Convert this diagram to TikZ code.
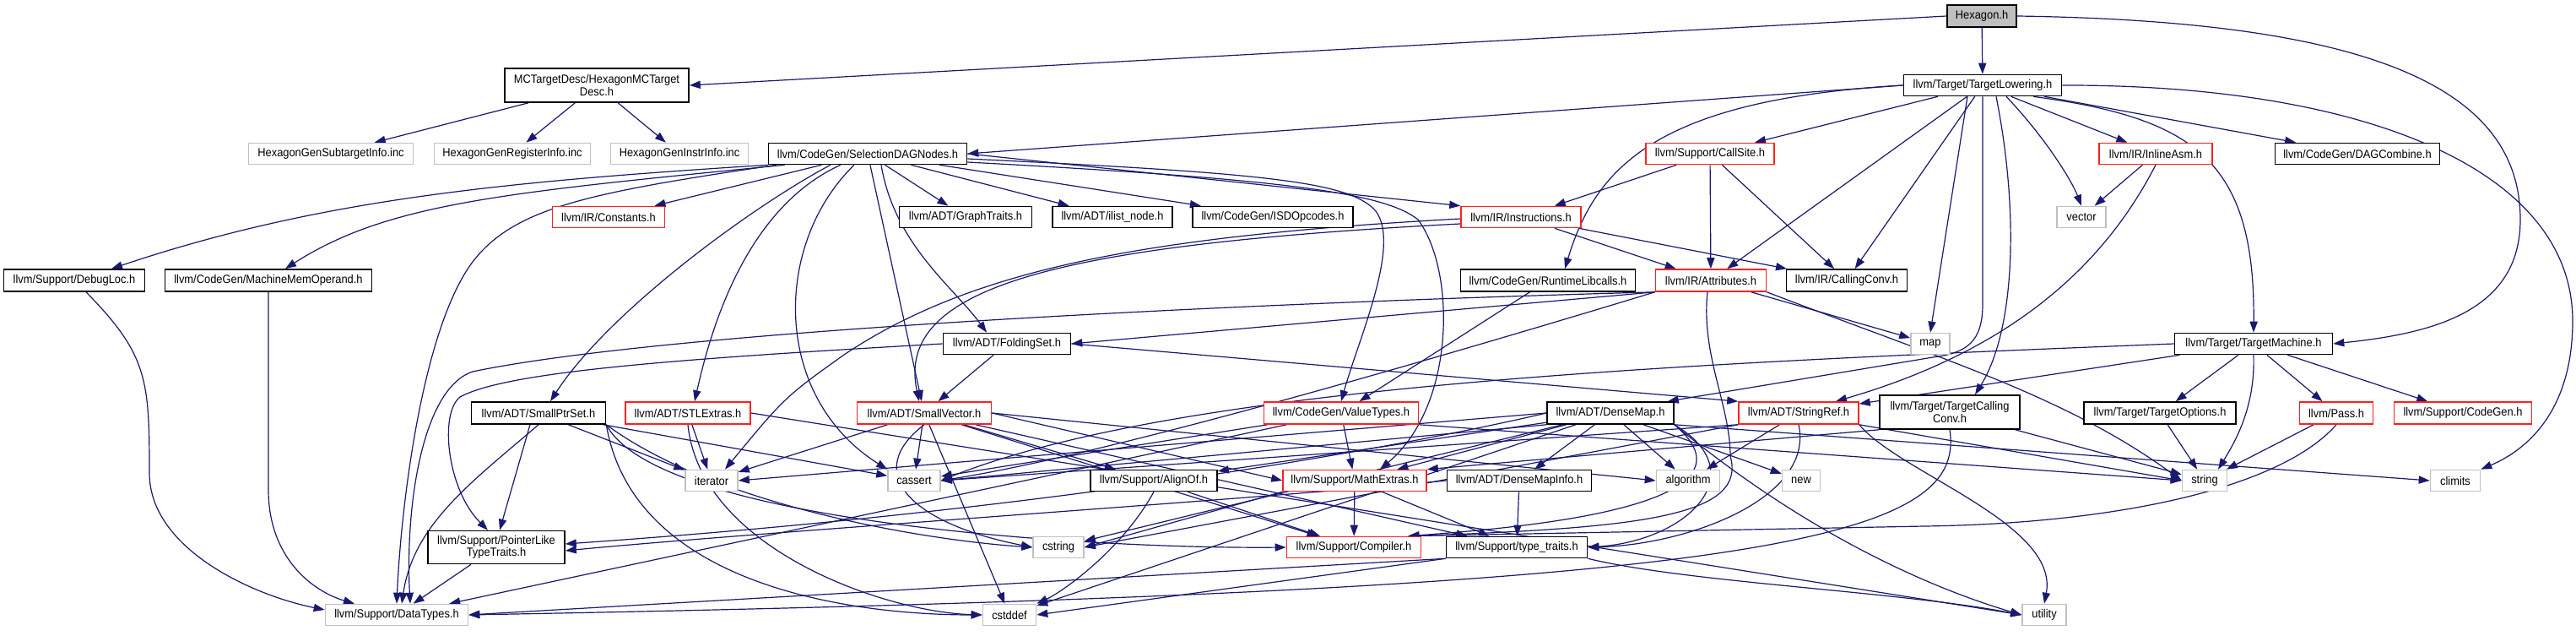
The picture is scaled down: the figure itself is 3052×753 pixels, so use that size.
\documentclass[tikz,border=0pt]{standalone}
\usepackage{fontspec}
\setmainfont{Liberation Sans}[FakeStretch=0.92]
\usetikzlibrary{arrows.meta}
\definecolor{edgec}{HTML}{191970}
\definecolor{redb}{HTML}{FF2020}
\definecolor{grayb}{HTML}{C0C0C0}
\definecolor{hexfill}{HTML}{BFBFBF}
\pgfdeclarelayer{back}
\pgfdeclarelayer{bg}
\pgfsetlayers{back,bg,main}
\begin{document}
\begin{tikzpicture}[x=0.5pt,y=-0.5pt,
 bx/.style={draw=black,fill=white,line width=0.8pt,inner sep=0pt,align=center,font=\fontsize{7}{7.3}\selectfont},
 rbx/.style={bx,draw=redb},
 gbx/.style={bx,draw=grayb},
 bw/.style={minimum width=#1*0.5pt},
 bh/.style={minimum height=#1*0.5pt},
 e/.style={draw=edgec,line width=0.6pt,-{Triangle[length=6.5pt,width=4.6pt]}}]
\begin{pgfonlayer}{back}
\fill[white] (0,0) rectangle (3052,753);
\end{pgfonlayer}
\useasboundingbox (0,0) rectangle (3052,753);
% nodes
\node[bx,fill=hexfill,bw=82,bh=26] (hex) at (2348,19) {Hexagon.h};
\node[bx,bw=218,bh=40] (mc) at (707,101) {MCTargetDesc/HexagonMCTarget\\Desc.h};
\node[bx,bw=187,bh=25] (tl) at (2349,101) {llvm/Target/TargetLowering.h};
\node[gbx,bw=195,bh=25] (sub) at (392,182) {HexagonGenSubtargetInfo.inc};
\node[gbx,bw=185,bh=25] (reg) at (607,182) {HexagonGenRegisterInfo.inc};
\node[gbx,bw=163,bh=25] (instr) at (805,182) {HexagonGenInstrInfo.inc};
\node[bx,bw=235,bh=25] (sdn) at (1028,182) {llvm/CodeGen/SelectionDAGNodes.h};
\node[rbx,bw=152,bh=25] (cs) at (2026,182) {llvm/Support/CallSite.h};
\node[rbx,bw=134,bh=25] (ia) at (2554,182) {llvm/IR/InlineAsm.h};
\node[bx,bw=195,bh=25] (dagc) at (2793,182) {llvm/CodeGen/DAGCombine.h};
\node[rbx,bw=133,bh=25] (const) at (721,257) {llvm/IR/Constants.h};
\node[bx,bw=157,bh=25] (gt) at (1144,257) {llvm/ADT/GraphTraits.h};
\node[bx,bw=142,bh=25] (ilist) at (1318,257) {llvm/ADT/ilist\_node.h};
\node[bx,bw=190,bh=25] (isd) at (1508,257) {llvm/CodeGen/ISDOpcodes.h};
\node[rbx,bw=142,bh=25] (ins) at (1802,257) {llvm/IR/Instructions.h};
\node[gbx,bw=58,bh=25] (vec) at (2466,257) {vector};
\node[bx,bw=167,bh=26] (dl) at (88,332) {llvm/Support/DebugLoc.h};
\node[bx,bw=245,bh=26] (mmo) at (318,332) {llvm/CodeGen/MachineMemOperand.h};
\node[bx,bw=207,bh=26] (rtl) at (1834,332) {llvm/CodeGen/RuntimeLibcalls.h};
\node[rbx,bw=131,bh=26] (attr) at (2027,332) {llvm/IR/Attributes.h};
\node[bx,bw=143,bh=26] (cc) at (2188,332) {llvm/IR/CallingConv.h};
\node[bx,bw=151,bh=25] (fs) at (1193,407) {llvm/ADT/FoldingSet.h};
\node[gbx,bw=46,bh=25] (map) at (2287,407) {map};
\node[bx,bw=187,bh=25] (tm) at (2670,407) {llvm/Target/TargetMachine.h};
\node[bx,bw=159,bh=26] (sps) at (638,489) {llvm/ADT/SmallPtrSet.h};
\node[rbx,bw=148,bh=26] (stl) at (815,489) {llvm/ADT/STLExtras.h};
\node[rbx,bw=159,bh=26] (sv) at (1095,489) {llvm/ADT/SmallVector.h};
\node[rbx,bw=183,bh=26] (vt) at (1589,489) {llvm/CodeGen/ValueTypes.h};
\node[bx,bw=150,bh=26] (dm) at (1908,489) {llvm/ADT/DenseMap.h};
\node[rbx,bw=142,bh=26] (sr) at (2131,489) {llvm/ADT/StringRef.h};
\node[bx,bw=166,bh=40] (tcc) at (2310,488) {llvm/Target/TargetCalling\\Conv.h};
\node[bx,bw=180,bh=26] (tgo) at (2559,489) {llvm/Target/TargetOptions.h};
\node[rbx,bw=87,bh=26] (pass) at (2768,489) {llvm/Pass.h};
\node[rbx,bw=163,bh=26] (cg) at (2918,489) {llvm/Support/CodeGen.h};
\node[gbx,bw=62,bh=25] (iter) at (843,569) {iterator};
\node[gbx,bw=62,bh=25] (cas) at (1083,569) {cassert};
\node[bx,bw=150,bh=25] (align) at (1367,569) {llvm/Support/AlignOf.h};
\node[rbx,bw=170,bh=25] (me) at (1605,569) {llvm/Support/MathExtras.h};
\node[bx,bw=171,bh=25] (dmi) at (1800,569) {llvm/ADT/DenseMapInfo.h};
\node[gbx,bw=75,bh=25] (algo) at (2000,569) {algorithm};
\node[gbx,bw=45,bh=25] (new) at (2134,569) {new};
\node[gbx,bw=53,bh=25] (str) at (2612,569) {string};
\node[gbx,bw=59,bh=25] (clim) at (2909,569) {climits};
\node[bx,bw=162,bh=39] (pltt) at (588,648) {llvm/Support/PointerLike\\TypeTraits.h};
\node[gbx,bw=60,bh=25] (cstr) at (1254,648) {cstring};
\node[rbx,bw=159,bh=25] (comp) at (1604,648) {llvm/Support/Compiler.h};
\node[bx,bw=167,bh=25] (tt) at (1797,648) {llvm/Support/type\_traits.h};
\node[gbx,bw=169,bh=25] (dt) at (470,728) {llvm/Support/DataTypes.h};
\node[gbx,bw=63,bh=25] (cdef) at (1196,728) {cstddef};
\node[gbx,bw=52,bh=25] (util) at (2422,728) {utility};
% edges
\begin{pgfonlayer}{bg}
% Hexagon.h
\draw[e] (hex.west) -- (mc.east);
\draw[e] (hex) -- (tl);
\draw[e] (hex.east) .. controls (2800,25) and (2986,100) .. (2986,260) .. controls (2986,370) and (2880,395) .. (tm.east);
% MCTargetDesc
\draw[e] (mc) -- (sub);
\draw[e] (mc) -- (reg);
\draw[e] (mc) -- (instr);
% TargetLowering
\draw[e] (tl.west) -- (sdn.east);
\draw[e] (tl.west) .. controls (1960,118) and (1890,200) .. ([xshift=10pt]rtl.north);
\draw[e] (tl) -- (cs);
\draw[e] (tl) -- (attr);
\draw[e] (tl) -- (cc);
\draw[e] (tl.south) -- (2349,360) .. controls (2349,405) and (2330,418) .. (2290,423) -- ([xshift=-4pt]dm.north east);
\draw[e] ([xshift=-9pt]tl.south) -- (map.north);
\draw[e] ([xshift=8pt]tl.south) .. controls (2392,250) and (2388,390) .. ([xshift=15pt]tcc.north);
\draw[e] ([xshift=14pt]tl.south) .. controls (2425,165) and (2455,215) .. (vec.north);
\draw[e] (tl) -- (ia);
\draw[e] (tl) -- (dagc);
\draw[e] ([xshift=30pt]tl.south) .. controls (2600,140) and (2672,190) .. (tm.north);
\draw[e] (tl.east) .. controls (2800,100) and (3048,200) .. (3048,380) .. controls (3048,480) and (3000,530) .. (clim.north east);
% SelectionDAGNodes
\draw[e] (sdn.south west) .. controls (600,215) and (380,235) .. ([xshift=22pt]dl.north);
\draw[e] ([xshift=10pt]sdn.south west) .. controls (600,228) and (460,240) .. ([xshift=10pt]mmo.north);
\draw[e] (sdn) -- (const);
\draw[e] ([xshift=5pt]sdn.south west) .. controls (700,228) and (610,245) .. (560,310) .. controls (500,390) and (475,600) .. (dt.north);
\draw[e] ([xshift=-22pt]sdn.south) .. controls (890,245) and (720,370) .. ([xshift=7pt]sps.north);
\draw[e] ([xshift=-16pt]sdn.south) .. controls (930,225) and (862,300) .. ([xshift=4pt]stl.north);
\draw[e] ([xshift=-8pt]sdn.south) .. controls (915,290) and (915,470) .. (cas.north west);
\draw[e] (sdn) -- (sv);
\draw[e] ([xshift=8pt]sdn.south) .. controls (1060,290) and (1130,340) .. ([xshift=-12pt]fs.north);
\draw[e] (sdn) -- (gt);
\draw[e] (sdn) -- (ilist);
\draw[e] (sdn) -- (isd);
\draw[e] (sdn.east) -- (ins.north west);
\draw[e] ([yshift=-3pt]sdn.east) .. controls (1500,205) and (1600,215) .. (1630,250) .. controls (1660,290) and (1610,400) .. (vt.north);
\draw[e] ([yshift=-5pt]sdn.east) .. controls (1520,212) and (1640,228) .. (1680,260) .. controls (1725,320) and (1725,480) .. ([xshift=15pt]me.north);
% CallSite
\draw[e] (cs) -- (ins);
\draw[e] (cs) -- (attr);
\draw[e] (cs) -- (cc);
% InlineAsm
\draw[e] (ia) -- (vec);
\draw[e] (ia.south) .. controls (2500,300) and (2400,410) .. ([xshift=22pt]sr.north);
% Instructions
\draw[e] (ins) -- (attr);
\draw[e] (ins) -- (cc);
\draw[e] ([yshift=-4pt]ins.west) .. controls (1250,290) and (1060,340) .. ([xshift=-3pt]sv.north);
\draw[e] ([yshift=-1pt]ins.west) .. controls (1350,280) and (1150,320) .. (1000,420) .. controls (930,470) .. ([xshift=8pt]iter.north);
% Attributes
\draw[e] (attr.south west) -- (fs.east);
\draw[e] (attr) -- (map);
\draw[e] (attr.south west) .. controls (1500,358) and (800,390) .. (560,440) .. controls (500,460) and (480,600) .. ([xshift=8pt]dt.north);
\draw[e] (attr.south west) .. controls (1650,440) and (1300,540) .. (cas.east);
\draw[e] (attr.south east) .. controls (2300,425) and (2450,470) .. (str.west);
\draw[e] ([xshift=-2pt]attr.south) .. controls (2015,420) and (2050,480) .. (2050,540) .. controls (2070,610) and (1950,625) .. ([xshift=-8pt]comp.north east);
% DebugLoc, MachineMemOperand, RuntimeLibcalls
\draw[e] ([xshift=7pt]dl.south) .. controls (175,420) and (177,450) .. (177,560) .. controls (177,650) and (300,705) .. ([yshift=3pt]dt.west);
\draw[e] (mmo.south) -- (318,580) .. controls (318,660) and (370,700) .. ([xshift=-25pt]dt.north);
\draw[e] (rtl) -- (vt);
% FoldingSet
\draw[e] (fs) -- (sv);
\draw[e] (fs.east) -- (sr.north west);
\draw[e] (fs.west) .. controls (800,425) and (600,440) .. (545,470) .. controls (520,490) and (530,580) .. ([xshift=-5pt]pltt.north);
% TargetMachine
\draw[e] (tm) -- (sr);
\draw[e] (tm.west) .. controls (2000,430) and (1400,455) .. (cas.east);
\draw[e] (tm) -- (tgo);
\draw[e] (tm) -- (pass);
\draw[e] (tm) -- (cg);
\draw[e] (tm.south) .. controls (2672,480) and (2650,520) .. ([xshift=8pt]str.north);
\draw[e] (tgo) -- (str);
\draw[e] (pass) -- (str);
\draw[e] (pass.south) .. controls (2700,580) and (2500,620) .. (2280,623) -- ([xshift=-8pt]comp.north east);
% SmallPtrSet
\draw[e] (sps.south east) .. controls (780,620) and (1300,650) .. (comp.west);
\draw[e] (sps.south) .. controls (560,570) and (490,620) .. ([xshift=3pt]dt.north);
\draw[e] ([xshift=-5pt]sps.south) -- ([xshift=2pt]pltt.north);
\draw[e] (sps) -- (cas);
\draw[e] (sps) -- (iter);
\draw[e] (sps.south east) .. controls (750,690) and (1000,728) .. (cdef.west);
\draw[e] (sps.south east) .. controls (850,600) and (1100,640) .. (cstr.west);
% STLExtras
\draw[e] (stl) -- (iter);
\draw[e] (stl.south) .. controls (830,650) and (1050,725) .. (cdef.west);
\draw[e] (stl.east) -- (util.west);
% SmallVector
\draw[e] (sv) -- (align);
\draw[e] (sv) -- (comp);
\draw[e] (sv.east) -- (me.west);
\draw[e] (sv) -- (tt);
\draw[e] (sv.east) -- (algo.west);
\draw[e] (sv) -- (cas);
\draw[e] (sv) -- (cdef);
\draw[e] (sv.south) .. controls (1020,560) and (1080,620) .. (cstr.west);
\draw[e] (sv) -- (iter);
% ValueTypes
\draw[e] (vt) -- (dt);
\draw[e] (vt) -- (me);
\draw[e] (vt) -- (cas);
\draw[e] (vt.south east) -- (str.west);
% DenseMap
\draw[e] (dm) -- (dmi);
\draw[e] (dm) -- (align);
\draw[e] (dm.south east) .. controls (2100,600) and (1800,625) .. ([xshift=-8pt]comp.north east);
\draw[e] (dm) -- (me);
\draw[e] (dm.west) .. controls (1700,520) and (1300,600) .. ([yshift=2pt]pltt.east);
\draw[e] (dm.south east) .. controls (2080,560) and (2000,640) .. (tt.east);
\draw[e] (dm) -- (algo);
\draw[e] (dm) -- (new);
\draw[e] (dm.south west) -- (cas.east);
\draw[e] (dm.south east) -- (clim.west);
\draw[e] (dm) -- (cdef);
\draw[e] (dm) -- (cstr);
\draw[e] (dm.west) -- (iter.east);
\draw[e] (dm.south east) .. controls (2150,640) and (2300,700) .. (util.west);
% StringRef
\draw[e] (sr.south) .. controls (2150,590) and (2000,645) .. (tt.east);
\draw[e] (sr) -- (algo);
\draw[e] (sr.south west) -- (cas.east);
\draw[e] (sr.south west) -- (cstr.east);
\draw[e] (sr.south east) -- (str.west);
\draw[e] (sr.south east) .. controls (2250,560) and (2440,620) .. (util.north);
% TargetCallingConv
\draw[e] (tcc.south) .. controls (2330,640) and (2100,700) .. (dt.east);
\draw[e] (tcc.south west) -- (me.north east);
\draw[e] (tcc) -- (str);
% AlignOf, MathExtras, DenseMapInfo
\draw[e] (align) -- (comp);
\draw[e] (align.south) .. controls (1330,650) and (1260,700) .. (cdef.north east);
\draw[e] (me) -- (comp);
\draw[e] (me) -- (tt);
\draw[e] (me.south west) -- (cstr.east);
\draw[e] (dmi) -- (tt);
\draw[e] (dmi.west) .. controls (1500,590) and (900,630) .. ([yshift=-2pt]pltt.east);
% type_traits, PointerLikeTypeTraits
\draw[e] (tt.south west) -- (dt.east);
\draw[e] (tt.south west) -- (cdef.east);
\draw[e] (tt.south east) .. controls (2000,690) and (2250,700) .. (util.west);
\draw[e] (pltt) -- (dt);
\end{pgfonlayer}
\end{tikzpicture}
\end{document}
